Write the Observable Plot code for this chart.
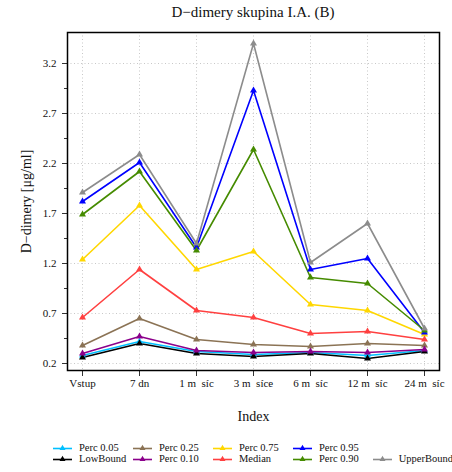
<!DOCTYPE html>
<html><head><meta charset="utf-8">
<script src="https://cdn.jsdelivr.net/npm/d3@7"></script>
<script src="https://cdn.jsdelivr.net/npm/@observablehq/plot@0.6"></script>
<style>
body{margin:0;background:#fff;font-family:"Liberation Serif",serif;color:#111;}
#wrap{width:452px;height:472px;position:relative;}
#title{height:24px;padding-left:67px;width:372px;text-align:center;font-size:15px;line-height:24px;padding-top:0px;box-sizing:content-box;}
#chart svg{display:block;}
#legend{position:absolute;left:53px;top:442px;display:grid;grid-template-rows:repeat(2,11px);grid-auto-flow:column;grid-auto-columns:80px;font-size:10.5px;}
.item{display:flex;align-items:center;height:11px;white-space:nowrap;}
.item svg{margin-right:7px;}
</style></head><body>
<div id="wrap"><div id="title">D−dimery skupina I.A. (B)</div><div id="chart"></div><div id="legend"></div></div>
<script>
const categories = ["Vstup","7 dn","1 m\u2002síc","3 m\u2002síce","6 m\u2002síc","12 m\u2002síc","24 m\u2002síc"];
const seriesNames = ["Perc 0.05","LowBound","Perc 0.25","Perc 0.10","Perc 0.75","Median","Perc 0.95","Perc 0.90","UpperBound"];
const seriesColors = ["#00BFFF","#000000","#8B7355","#8B008B","#FFD700","#FF4040","#0000FF","#458B00","#8C8C8C"];
const perc05 = [0.28, 0.42, 0.32, 0.29, 0.31, 0.28, 0.33];
const lowBound = [0.26, 0.40, 0.30, 0.27, 0.30, 0.25, 0.32];
const perc25 = [0.38, 0.65, 0.44, 0.39, 0.37, 0.40, 0.38];
const perc10 = [0.30, 0.47, 0.33, 0.31, 0.32, 0.31, 0.34];
const perc75 = [1.24, 1.78, 1.14, 1.32, 0.79, 0.73, 0.49];
const median = [0.66, 1.14, 0.73, 0.66, 0.50, 0.52, 0.44];
const perc95 = [1.82, 2.21, 1.36, 2.93, 1.14, 1.25, 0.51];
const perc90 = [1.69, 2.12, 1.33, 2.34, 1.06, 1.00, 0.53];
const upperBound = [1.91, 2.29, 1.40, 3.40, 1.21, 1.60, 0.55];
const yMajorTicks = [0.2, 0.7, 1.2, 1.7, 2.2, 2.7, 3.2];
const yMinorTicks = [0.45, 0.95, 1.45, 1.95, 2.45, 2.95];

const seriesValues = [perc05, lowBound, perc25, perc10, perc75, median, perc95, perc90, upperBound];
const rows = [];
seriesNames.forEach((name, i) => {
  seriesValues[i].forEach((v, j) => rows.push({series: name, cat: categories[j], value: v}));
});

const chart = Plot.plot({
  width: 452, height: 406,
  marginTop: 8, marginBottom: 60, marginLeft: 67, marginRight: 13,
  style: {fontFamily: "'Liberation Serif', serif", fontSize: "11px", color: "#111", background: "white"},
  x: {type: "point", domain: categories, padding: 0.24},
  y: {domain: [0.13, 3.51]},
  color: {domain: seriesNames, range: seriesColors},
  marks: [
    Plot.gridX({stroke: "#c8c8c8", strokeOpacity: 1, strokeDasharray: "1,2.5"}),
    Plot.gridY({ticks: yMajorTicks, stroke: "#c8c8c8", strokeOpacity: 1, strokeDasharray: "1,2.5"}),
    Plot.line(rows, {x: "cat", y: "value", z: "series", stroke: "series", strokeWidth: 1.6}),
    Plot.dot(rows, {x: "cat", y: "value", fill: "series", symbol: "triangle", r: 2.6, stroke: "none"}),
    Plot.axisX({tickSize: 6, tickPadding: 3, stroke: "#333", label: "Index", labelAnchor: "center", labelOffset: 50, labelArrow: "none"}),
    Plot.axisY({ticks: yMajorTicks, tickSize: 5, tickPadding: 6, stroke: "#333", tickFormat: d => d.toFixed(1), label: "D−dimery [μg/ml]", labelAnchor: "center", labelOffset: 46, labelArrow: "none"}),
    Plot.axisY({ticks: yMinorTicks, tickSize: 3, stroke: "#333", tickFormat: () => "", label: null}),
    Plot.frame({stroke: "black", strokeWidth: 1.5})
  ]
});
document.getElementById("chart").appendChild(chart);
d3.select(chart).selectAll('g[aria-label="x-axis label"], g[aria-label="y-axis label"]').attr("font-size", "14px");
d3.select(chart).selectAll('g[aria-label="x-axis label"] text, g[aria-label="y-axis label"] text').each(function() {
  const t = this.textContent;
  const clean = t.replace(/[\u2190-\u2193]/g, "").trim();
  if (clean !== t) this.textContent = clean;
});

const legend = document.getElementById("legend");
const order = ["Perc 0.05","LowBound","Perc 0.25","Perc 0.10","Perc 0.75","Median","Perc 0.95","Perc 0.90",null,"UpperBound"];
order.forEach(name => {
  const div = document.createElement("div");
  div.className = "item";
  if (name) {
    const c = seriesColors[seriesNames.indexOf(name)];
    div.innerHTML = `<svg width="19" height="8"><line x1="0" x2="19" y1="4.5" y2="4.5" stroke="${c}" stroke-width="1.6"/><path d="M9.5,0.8 L12.5,6 L6.5,6 Z" fill="${c}"/></svg><span>${name}</span>`;
  }
  legend.appendChild(div);
});
</script>
</body></html>
